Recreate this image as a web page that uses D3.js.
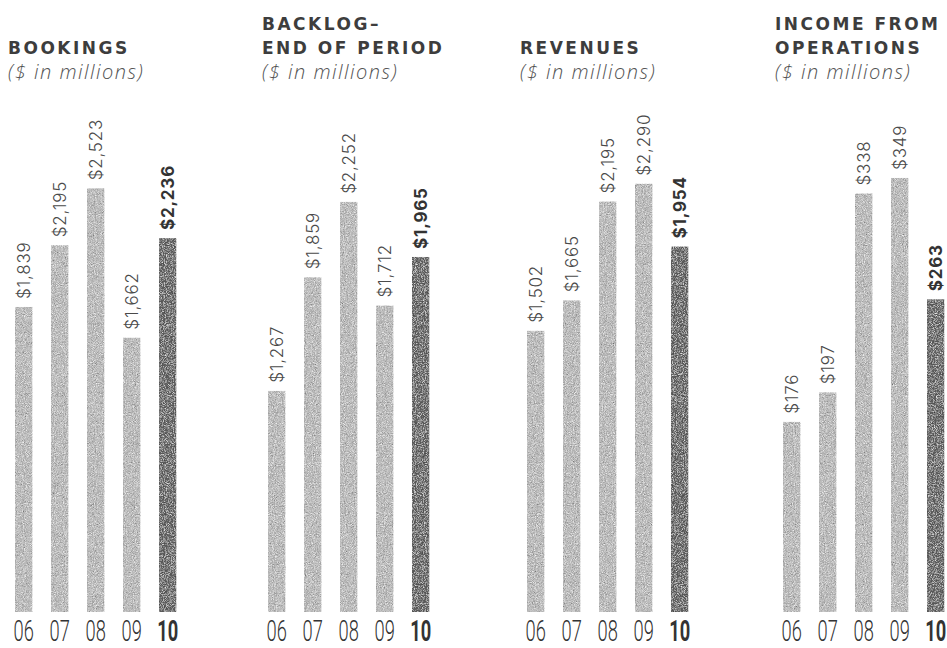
<!DOCTYPE html>
<html>
<head>
<meta charset="utf-8">
<script src="https://cdn.jsdelivr.net/npm/d3@7"></script>
<style>
  html, body { margin: 0; padding: 0; background: #fff; }
  svg { display: block; }
</style>
</head>
<body>
<svg id="chart" width="947" height="648"></svg>
<script>
// ---- data ----
const years = ["06", "07", "08", "09", "10"];
const panelTitles = [
  ["BOOKINGS"],
  ["BACKLOG–", "END OF PERIOD"],
  ["REVENUES"],
  ["INCOME FROM", "OPERATIONS"]
];
const subtitle = "($ in millions)";
const bookings = [1839, 2195, 2523, 1662, 2236];
const backlog = [1267, 1859, 2252, 1712, 1965];
const revenues = [1502, 1665, 2195, 2290, 1954];
const income = [176, 197, 338, 349, 263];
const series = [bookings, backlog, revenues, income];
const highlightYear = "10";

// ---- layout ----
const baseY = 612;
const panelX = [15, 268, 527, 783];
const titleX = [8, 262, 520, 775];
const zeroY = [626, 634, 611, 670];
const pxPer = [0.1735, 0.1919, 0.1866, 1.41];

const svg = d3.select("#chart");

const defs = svg.append("defs");
const f = defs.append("filter").attr("id", "grain")
  .attr("x", 0).attr("y", 0).attr("width", 1).attr("height", 1);
f.append("feTurbulence").attr("type", "fractalNoise").attr("baseFrequency", 1.1)
  .attr("numOctaves", 2).attr("seed", 3).attr("result", "noise");
f.append("feColorMatrix").attr("in", "noise").attr("type", "saturate").attr("values", 0).attr("result", "g");
f.append("feComponentTransfer").attr("in", "g").attr("result", "gc")
  .call(s => {
    ["feFuncR", "feFuncG", "feFuncB"].forEach(n =>
      s.append(n).attr("type", "linear").attr("slope", 2.0).attr("intercept", -0.4));
  });
f.append("feBlend").attr("in", "SourceGraphic").attr("in2", "gc").attr("mode", "overlay").attr("result", "b");
f.append("feComposite").attr("in", "b").attr("in2", "SourceGraphic").attr("operator", "in");

series.forEach((vals, p) => {
  const g = svg.append("g");
  const x = d3.scaleBand().domain(years)
    .range([panelX[p], panelX[p] + 4 * 36 + 17.5])
    .paddingInner(0.514).paddingOuter(0);
  const maxV = d3.max(vals);
  const y = d3.scaleLinear().domain([0, maxV])
    .range([zeroY[p], zeroY[p] - maxV * pxPer[p]]);

  // titles
  const lines = panelTitles[p];
  const titleBase = lines.length === 2 ? 30 : 54;
  lines.forEach((t, i) => {
    g.append("text")
      .attr("x", titleX[p]).attr("y", titleBase + i * 24)
      .attr("font-family", "'DejaVu Sans', sans-serif")
      .attr("font-weight", 700).attr("font-size", 17)
      .attr("letter-spacing", 2.5)
      .attr("fill", "#3d3d3d")
      .text(t);
  });
  g.append("text")
    .attr("x", titleX[p]).attr("y", 79)
    .attr("font-family", "'Open Sans', sans-serif")
    .attr("font-weight", 300).attr("font-style", "italic")
    .attr("font-size", 20).attr("letter-spacing", 1.5)
    .attr("fill", "#555")
    .text(subtitle);

  const data = years.map((yr, i) => ({ yr, v: vals[i] }));

  g.selectAll("rect.bar").data(data).join("rect")
    .attr("class", "bar")
    .attr("x", d => x(d.yr))
    .attr("width", x.bandwidth())
    .attr("y", d => y(d.v))
    .attr("height", d => baseY - y(d.v))
    .attr("fill", d => d.yr === highlightYear ? "#5e5e5e" : "#b4b4b4")
    .attr("filter", "url(#grain)");

  const fmt = d3.format("$,");
  g.selectAll("text.val").data(data).join("text")
    .attr("class", "val")
    .attr("transform", d => `translate(${x(d.yr) + x.bandwidth() / 2},${y(d.v) - 8}) rotate(-90)`)
    .attr("dy", "0.36em")
    .attr("font-family", "Inter, 'Open Sans', sans-serif")
    .attr("font-weight", d => d.yr === highlightYear ? 700 : 300)
    .attr("font-size", 17)
    .attr("letter-spacing", 0.8)
    .attr("fill", d => d.yr === highlightYear ? "#333" : "#4a4a4a")
    .text(d => fmt(d.v));

  g.selectAll("text.yr").data(data).join("text")
    .attr("class", "yr")
    .attr("transform", d => `translate(${x(d.yr) + x.bandwidth() / 2},641) scale(0.63,1)`)
    .attr("text-anchor", "middle")
    .attr("font-family", "Roboto, sans-serif")
    .attr("font-weight", d => d.yr === highlightYear ? 700 : 300)
    .attr("font-size", 29)
    .attr("fill", "#333")
    .text(d => d.yr);
});
</script>
</body>
</html>
